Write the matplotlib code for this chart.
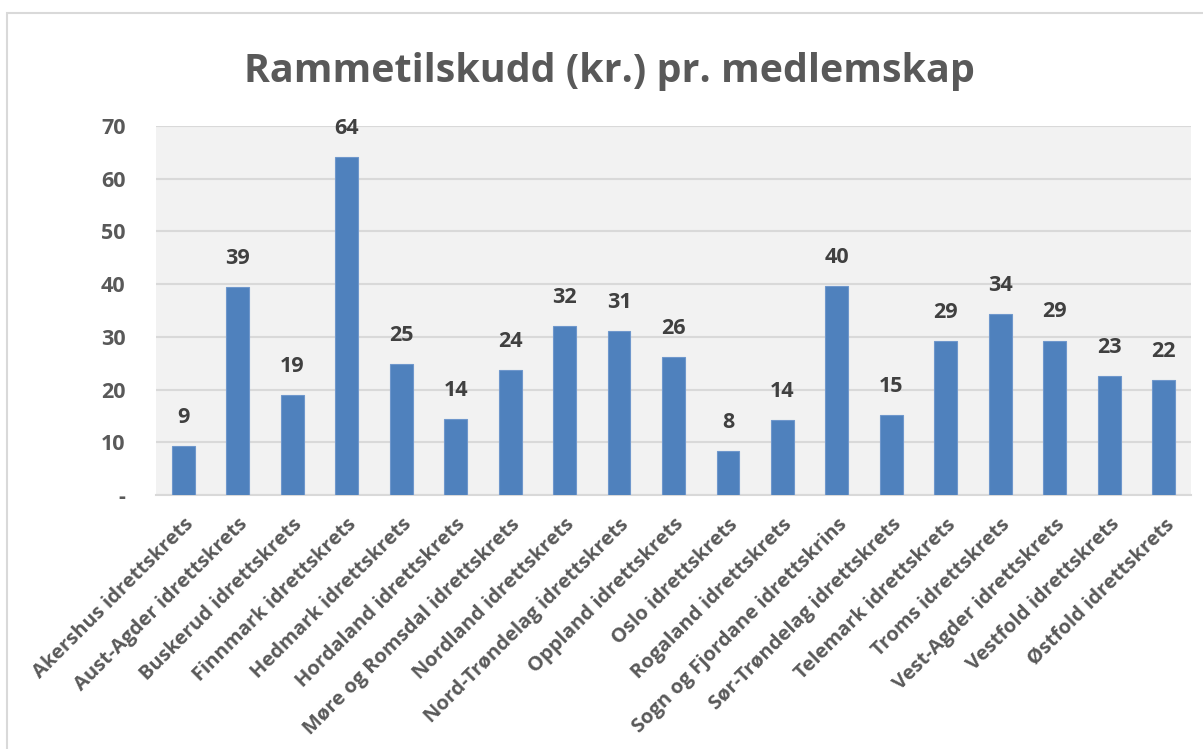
import matplotlib.pyplot as plt
from matplotlib.patches import Rectangle

plt.rcParams['font.family'] = ['Open Sans', 'DejaVu Sans']

kretser = ['Akershus idrettskrets', 'Aust-Agder idrettskrets', 'Buskerud idrettskrets',
           'Finnmark idrettskrets', 'Hedmark idrettskrets', 'Hordaland idrettskrets',
           'Møre og Romsdal idrettskrets', 'Nordland idrettskrets', 'Nord-Trøndelag idrettskrets',
           'Oppland idrettskrets', 'Oslo idrettskrets', 'Rogaland idrettskrets',
           'Sogn og Fjordane idrettskrins', 'Sør-Trøndelag idrettskrets', 'Telemark idrettskrets',
           'Troms idrettskrets', 'Vest-Agder idrettskrets', 'Vestfold idrettskrets',
           'Østfold idrettskrets']
tilskudd = [9.3, 39.4, 19.0, 64.1, 24.9, 14.4, 23.7, 32.1, 31.1, 26.2,
            8.3, 14.2, 39.7, 15.2, 29.2, 34.3, 29.3, 22.6, 21.8]
yticks = [0, 10, 20, 30, 40, 50, 60, 70]
ytick_labels = ['-', '10', '20', '30', '40', '50', '60', '70']

fig = plt.figure(figsize=(12.03, 7.49), dpi=100)
fig.patches.append(Rectangle((7 / 1203, -0.1), 1.2, 1 - 13 / 749 + 0.1,
                             transform=fig.transFigure, fill=False,
                             edgecolor='#D9D9D9', linewidth=1.5))
ax = fig.add_axes([0.1297, 0.339, 0.8603, 0.493])
ax.set_facecolor('#F2F2F2')

x = range(len(kretser))
bars = ax.bar(x, tilskudd, width=0.42, color='#4F81BD', edgecolor='#6F97CC', linewidth=0.8, zorder=3)
for rect, v in zip(bars, tilskudd):
    ax.annotate(f'{v:.0f}', (rect.get_x() + rect.get_width() / 2, v),
                xytext=(0, 13), textcoords='offset points', ha='center', va='bottom',
                fontsize=15.5, fontweight='bold', color='#404040')

ax.set_ylim(0, 70)
ax.set_xlim(-0.5, len(kretser) - 0.5)
ax.set_yticks(yticks)
ax.set_yticklabels(ytick_labels, fontsize=15.5, fontweight='bold', color='#595959')
ax.set_xticks(list(x))
ax.set_xticklabels(kretser, rotation=45, ha='right', rotation_mode='anchor',
                   fontsize=14.5, fontweight='bold', color='#595959')
ax.tick_params(axis='y', length=0, pad=22)
ax.tick_params(axis='x', length=0, pad=14)
ax.grid(axis='y', color='#D9D9D9', linewidth=1.5, zorder=0)
for s in ['top', 'right', 'left']:
    ax.spines[s].set_visible(False)
ax.spines['bottom'].set_color('#D9D9D9')
ax.spines['bottom'].set_linewidth(1.5)

fig.text(0.507, 0.905, 'Rammetilskudd (kr.) pr. medlemskap', ha='center', va='center',
         fontsize=28.4, fontweight='bold', color='#595959')

fig.savefig('out.png', dpi=100)
